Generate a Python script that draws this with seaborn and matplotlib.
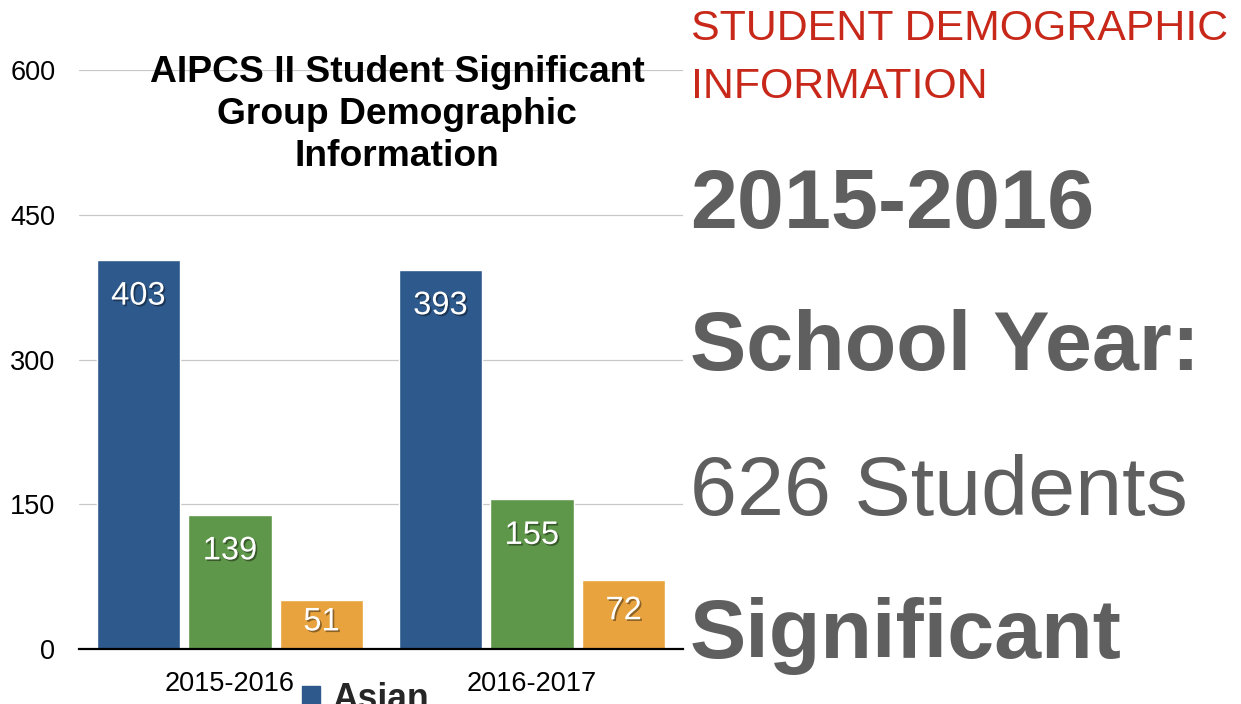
import matplotlib
matplotlib.use("Agg")
import matplotlib.pyplot as plt
import matplotlib.patches as mpatches
import matplotlib.patheffects as pe
import seaborn as sns
import pandas as pd

# ---- data ----
years = ["2015-2016", "2016-2017"]
groups = ["Asian", "Hispanic or Latino", "African American"]
asian = [403, 393]
hispanic = [139, 155]
african_american = [51, 72]
y_ticks = [0, 150, 300, 450, 600]
colors = ["#2E598C", "#5E9749", "#E8A33E"]

title_lines = ["AIPCS II Student Significant", "Group Demographic", "Information"]
side_heading = ["STUDENT DEMOGRAPHIC", "INFORMATION"]
side_lines = [("2015-2016", "bold"), ("School Year:", "bold"),
              ("626 Students", "normal"), ("Significant", "bold")]

df = pd.DataFrame({
    "Year": years * 3,
    "Group": [groups[0]] * 2 + [groups[1]] * 2 + [groups[2]] * 2,
    "Students": asian + hispanic + african_american,
})

sns.set_style("white")
plt.rcParams["font.family"] = ["Liberation Sans", "DejaVu Sans"]

W, H = 1241, 704
fig = plt.figure(figsize=(W / 100, H / 100), dpi=100)
ax = fig.add_axes([79 / W, 55 / H, 604 / W, 579 / H])

sns.barplot(data=df, x="Year", y="Students", hue="Group", order=years,
            hue_order=groups, palette=colors, width=0.91, gap=0.087,
            saturation=1, legend=False, ax=ax)

ax.set_ylim(0, 600)
ax.set_xlim(-0.5, 1.5)
ax.set_yticks(y_ticks)
ax.set_yticklabels([str(t) for t in y_ticks])
ax.yaxis.grid(True, color="#C8C8C8", linewidth=0.9)
ax.set_axisbelow(True)
for s in ["top", "right", "left"]:
    ax.spines[s].set_visible(False)
ax.spines["bottom"].set_color("black")
ax.spines["bottom"].set_linewidth(1.6)
ax.tick_params(axis="y", length=0, pad=17, labelsize=19.5, labelcolor="black")
ax.tick_params(axis="x", length=0, pad=16, labelsize=19.5, labelcolor="black")
ax.set_xlabel("")
ax.set_ylabel("")

# value labels inside bars
px_per_unit = 579 / 600
for cont in ax.containers:
    for p in cont.patches:
        h = p.get_height()
        hpx = h * px_per_unit
        off_px = min(36, 0.45 * hpx)
        t = ax.annotate(f"{int(round(h))}", xy=(p.get_x() + p.get_width() / 2, h),
                        xytext=(0, -off_px * 0.72), textcoords="offset points",
                        ha="center", va="center", color="white", fontsize=23.5)
        t.set_path_effects([pe.SimplePatchShadow(offset=(1.2, -1.2), shadow_rgbFace="black", alpha=0.4),
                            pe.Normal()])

# chart title
title_baselines = [82, 124, 166]
for line, yb in zip(title_lines, title_baselines):
    fig.text(397 / W, 1 - yb / H, line, ha="center", va="baseline",
             fontsize=26.8, fontweight="bold", color="black")

# legend (cut off at bottom like the reference)
handles = [mpatches.Patch(color=c, label=g) for c, g in zip(colors, groups)]
ax.legend(handles=handles, loc="upper left", bbox_to_anchor=(302 / W, 1 - 682 / H),
          bbox_transform=fig.transFigure, frameon=False,
          prop={"weight": "bold", "size": 25.6}, handlelength=0.5, handleheight=0.5,
          handletextpad=0.35, borderpad=0, borderaxespad=0, labelspacing=0.3)

# side texts
red = "#C8281A"
grey = "#5F5F5F"
for line, yb in zip(side_heading, [40, 98]):
    fig.text(691 / W, 1 - yb / H, line, ha="left", va="baseline",
             fontsize=30.9, color=red)
for (line, wt), yb in zip(side_lines, [228, 370, 515, 658]):
    fig.text(690 / W, 1 - yb / H, line, ha="left", va="baseline",
             fontsize=60.8, fontweight=wt, color=grey)

fig.savefig("out.png", dpi=100, facecolor="white")
